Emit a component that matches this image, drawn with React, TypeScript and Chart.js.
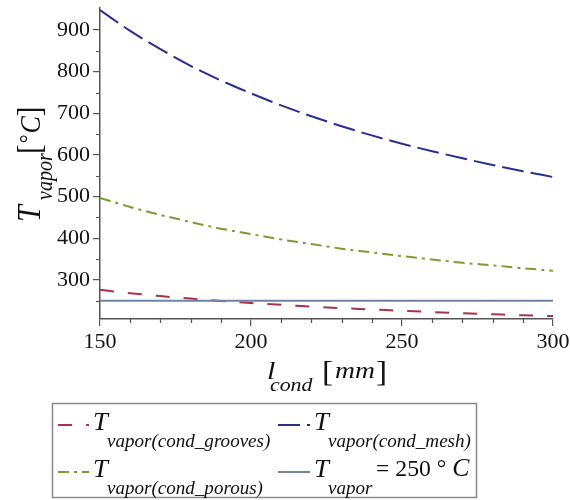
import React, { useEffect, useRef } from 'react';
import { Chart, registerables } from 'chart.js';

Chart.register(...registerables);

// ---- data ----
const lengths = [150, 160, 170, 180, 190, 200, 210, 220, 230, 240, 250, 260, 270, 280, 290, 300];
const tGrooves = [276, 268, 261, 255, 249.5, 244.5, 240, 236, 232, 229, 225.6, 222.7, 220, 217.5, 215, 213];
const tMesh = [948, 898, 854, 814, 779, 748, 719, 693, 669, 647, 627, 609, 592, 576, 561, 547];
const tPorous = [497, 475, 456, 439, 423, 410, 397, 386, 375, 366, 357, 349, 341, 335, 328, 322];
const tVaporLevel = 250;

const xTicks = [150, 200, 250, 300];
const yTicks = [300, 400, 500, 600, 700, 800, 900];
const xMinorTicks = [160, 170, 180, 190, 210, 220, 230, 240, 260, 270, 280, 290];
const yMinorTicks = [250, 350, 450, 550, 650, 750, 850];

const yMin = 206;
const yMax = 953;

const COL_GROOVES = '#a8324a';
const COL_MESH = '#28308f';
const COL_POROUS = '#7e9c36';
const COL_VAPOR = '#6f83a6';
const AXIS_COL = '#555555';

const DASH_GROOVES = [14, 14];
const DASH_MESH = [22, 7];
const DASH_POROUS = [11, 5, 3, 5];

const SERIF = '"Liberation Serif", "Times New Roman", serif';
const SX = 1.15;
const SXL = 1.03;

function txt(ctx: CanvasRenderingContext2D, s: string, x: number, y: number, font: string, sx = SX): number {
  ctx.save();
  ctx.font = font;
  ctx.textBaseline = 'alphabetic';
  ctx.textAlign = 'left';
  ctx.translate(x, y);
  ctx.scale(sx, 1);
  ctx.fillText(s, 0, 0);
  const w = ctx.measureText(s).width * sx;
  ctx.restore();
  return w;
}

const decorPlugin = {
  id: 'decor',
  afterDraw(chart: any) {
    const ctx: CanvasRenderingContext2D = chart.ctx;
    const xs = chart.scales.x;
    const ys = chart.scales.y;
    const area = chart.chartArea;

    // minor ticks
    ctx.save();
    ctx.strokeStyle = AXIS_COL;
    ctx.lineWidth = 1.2;
    ctx.beginPath();
    for (const v of xMinorTicks) {
      const px = Math.round(xs.getPixelForValue(v)) + 0.5;
      ctx.moveTo(px, area.bottom);
      ctx.lineTo(px, area.bottom + 4);
    }
    for (const v of yMinorTicks) {
      const py = Math.round(ys.getPixelForValue(v)) + 0.5;
      ctx.moveTo(area.left, py);
      ctx.lineTo(area.left - 4, py);
    }
    ctx.stroke();
    ctx.restore();

    ctx.save();
    ctx.fillStyle = '#111';

    // x axis title: l_cond [mm]
    txt(ctx, 'l', 267, 379, `italic 26px ${SERIF}`);
    txt(ctx, 'cond', 270, 391, `italic 19px ${SERIF}`);
    let bx = 322;
    bx += txt(ctx, '[', bx, 381, `29px ${SERIF}`);
    bx += 2;
    bx += txt(ctx, 'mm', bx, 378, `italic 24px ${SERIF}`);
    bx += 1;
    txt(ctx, ']', bx, 381, `29px ${SERIF}`);

    // y axis title (rotated): T_vapor [°C]
    ctx.save();
    ctx.rotate(-Math.PI / 2);
    const ty = (s: string, imgY: number, imgX: number, font: string) => {
      ctx.save();
      ctx.font = font;
      ctx.textBaseline = 'alphabetic';
      ctx.translate(-imgY, imgX);
      ctx.scale(1, SX);
      ctx.fillText(s, 0, 0);
      const w = ctx.measureText(s).width;
      ctx.restore();
      return w;
    };
    ty('T', 222, 40, `italic 30px ${SERIF}`);
    ty('vapor', 200, 52, `italic 20px ${SERIF}`);
    let yy = 154;
    yy -= ty('[', yy, 40, `29px ${SERIF}`);
    yy -= 1;
    yy -= ty('°', yy, 36, `22px ${SERIF}`);
    yy -= 1;
    yy -= ty('C', yy, 40, `italic 26px ${SERIF}`);
    ty(']', yy, 40, `29px ${SERIF}`);
    ctx.restore();

    // legend box
    ctx.strokeStyle = '#8a8a8a';
    ctx.lineWidth = 1.5;
    ctx.strokeRect(52.5, 403.5, 424, 94);

    const sample = (x0: number, y: number, len: number, color: string, dash: number[]) => {
      ctx.save();
      ctx.strokeStyle = color;
      ctx.lineWidth = 2;
      ctx.setLineDash(dash);
      ctx.beginPath();
      ctx.moveTo(x0, y);
      ctx.lineTo(x0 + len, y);
      ctx.stroke();
      ctx.restore();
    };

    ctx.fillStyle = '#111';
    // row 1
    sample(58, 425, 31, COL_GROOVES, DASH_GROOVES);
    txt(ctx, 'T', 93, 430, `italic 26px ${SERIF}`, SXL);
    txt(ctx, 'vapor(cond_grooves)', 107, 447, `italic 18.5px ${SERIF}`, SXL);

    sample(278, 425, 32, COL_MESH, DASH_MESH);
    txt(ctx, 'T', 314, 430, `italic 26px ${SERIF}`, SXL);
    txt(ctx, 'vapor(cond_mesh)', 328, 447, `italic 18.5px ${SERIF}`, SXL);

    // row 2
    sample(58, 472, 31, COL_POROUS, DASH_POROUS);
    txt(ctx, 'T', 93, 477, `italic 26px ${SERIF}`, SXL);
    txt(ctx, 'vapor(cond_porous)', 107, 494, `italic 18.5px ${SERIF}`, SXL);

    sample(278, 472, 32, COL_VAPOR, []);
    txt(ctx, 'T', 314, 477, `italic 26px ${SERIF}`, SXL);
    txt(ctx, 'vapor', 328, 494, `italic 18.5px ${SERIF}`, SXL);
    let ex = 376;
    ex += txt(ctx, '= 250 ° ', ex, 476, `23px ${SERIF}`, SXL);
    txt(ctx, 'C', ex, 476, `italic 25px ${SERIF}`, SXL);

    ctx.restore();
  },
};

function pts(vals: number[]) {
  return lengths.map((x, i) => ({ x, y: vals[i] }));
}

export default function App() {
  const ref = useRef<HTMLCanvasElement | null>(null);

  useEffect(() => {
    if (!ref.current) return;
    const tickFont = { family: SERIF, size: 22 };
    const chart = new Chart(ref.current, {
      type: 'line',
      data: {
        datasets: [
          {
            label: 'T vapor(cond_porous)',
            data: pts(tPorous),
            borderColor: COL_POROUS,
            borderWidth: 2,
            borderDash: DASH_POROUS,
            pointRadius: 0,
            fill: false,
            cubicInterpolationMode: 'monotone',
          },
          {
            label: 'T vapor(cond_mesh)',
            data: pts(tMesh),
            borderColor: COL_MESH,
            borderWidth: 2,
            borderDash: DASH_MESH,
            pointRadius: 0,
            fill: false,
            cubicInterpolationMode: 'monotone',
          },
          {
            label: 'T vapor = 250 °C',
            data: [
              { x: lengths[0], y: tVaporLevel },
              { x: lengths[lengths.length - 1], y: tVaporLevel },
            ],
            borderColor: COL_VAPOR,
            borderWidth: 2,
            pointRadius: 0,
            fill: false,
          },
          {
            label: 'T vapor(cond_grooves)',
            data: pts(tGrooves),
            borderColor: COL_GROOVES,
            borderWidth: 2,
            borderDash: DASH_GROOVES,
            pointRadius: 0,
            fill: false,
            cubicInterpolationMode: 'monotone',
          },
        ],
      },
      options: {
        animation: false,
        responsive: false,
        layout: { padding: { top: 8, right: 17, left: 0, bottom: 0 } },
        plugins: { legend: { display: false }, tooltip: { enabled: false } },
        scales: {
          x: {
            type: 'linear',
            min: 150,
            max: 300,
            afterBuildTicks: (s: any) => {
              s.ticks = xTicks.map((v) => ({ value: v }));
            },
            afterFit: (s: any) => {
              s.height = 181;
              s.paddingLeft = 0;
              s.paddingRight = 0;
            },
            grid: { drawOnChartArea: false, tickLength: 7, color: AXIS_COL, lineWidth: 1.2 },
            border: { color: AXIS_COL, width: 1.5 },
            ticks: { font: tickFont, color: '#111', padding: 3, maxRotation: 0, autoSkip: false },
          },
          y: {
            type: 'linear',
            min: yMin,
            max: yMax,
            afterBuildTicks: (s: any) => {
              s.ticks = yTicks.map((v) => ({ value: v }));
            },
            afterFit: (s: any) => {
              s.width = 100;
              s.paddingTop = 0;
              s.paddingBottom = 0;
            },
            grid: { drawOnChartArea: false, tickLength: 7, color: AXIS_COL, lineWidth: 1.2 },
            border: { color: AXIS_COL, width: 1.5 },
            ticks: { font: tickFont, color: '#111', padding: 3, autoSkip: false },
          },
        },
      },
      plugins: [decorPlugin],
    } as any);
    return () => chart.destroy();
  }, []);

  return (
    <div style={{ position: 'fixed', left: 0, top: 0, width: 570, height: 500, background: '#fff' }}>
      <canvas ref={ref} width={570} height={500} style={{ display: 'block' }} />
    </div>
  );
}
